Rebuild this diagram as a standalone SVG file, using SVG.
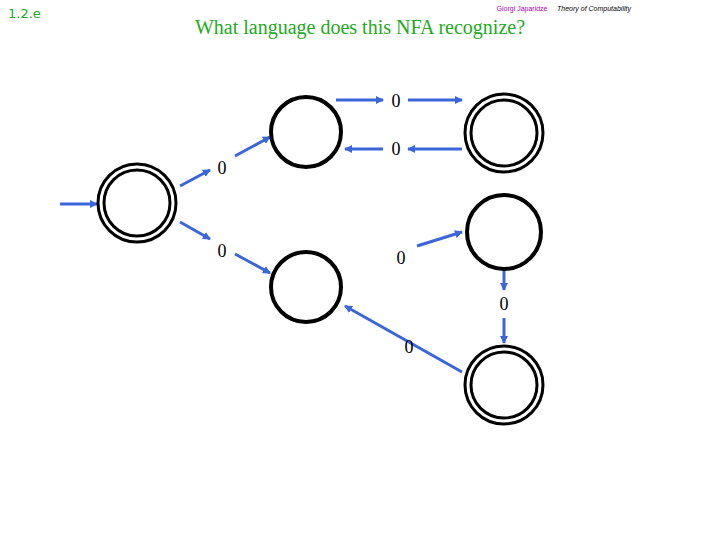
<svg xmlns="http://www.w3.org/2000/svg" width="720" height="540" viewBox="0 0 720 540">
<style>
.s{fill:none;stroke:#000;stroke-width:4}
.d{fill:none;stroke:#000;stroke-width:3}
.e{fill:none;stroke:#3a66d9;stroke-width:3;marker-end:url(#a)}
.l{font-family:"Liberation Serif",serif;font-size:18px;text-anchor:middle}
</style>
<defs><marker id="a" markerWidth="8" markerHeight="8" refX="7" refY="4" orient="auto" markerUnits="userSpaceOnUse"><path d="M0,0L8,4L0,8z" fill="#3a66d9"/></marker></defs>
<rect width="720" height="540" fill="#fff"/>
<text x="8" y="18" font-family="DejaVu Sans, sans-serif" font-size="13" fill="#22aa22">1.2.e</text>
<text x="522" y="11" font-family="Liberation Sans, sans-serif" font-size="7" fill="#b000b0" text-anchor="middle">Giorgi Japaridze</text>
<text x="594" y="11" font-family="Liberation Sans, sans-serif" font-size="7" fill="#000" text-anchor="middle" font-style="italic">Theory of Computability</text>
<text x="360" y="34" font-family="Liberation Serif, serif" font-size="20" fill="#22aa22" text-anchor="middle">What language does this NFA recognize?</text>
<g id="connectors">
<line class="e" x1="60" y1="204" x2="97" y2="204"/>
<line class="e" x1="180" y1="186" x2="210" y2="170"/><line class="e" x1="235" y1="156" x2="270" y2="137"/>
<line class="e" x1="180" y1="222" x2="210" y2="239"/><line class="e" x1="235" y1="254" x2="270" y2="273"/>
<line class="e" x1="336" y1="100" x2="383" y2="100"/><line class="e" x1="408" y1="100" x2="462" y2="100"/>
<line class="e" x1="462" y1="149" x2="408" y2="149"/><line class="e" x1="383" y1="149" x2="345" y2="149"/>
<line class="e" x1="417" y1="246" x2="462" y2="232"/>
<line class="e" x1="504" y1="270" x2="504" y2="290"/><line class="e" x1="504" y1="318" x2="504" y2="343"/>
<line class="e" x1="462" y1="372" x2="345" y2="306"/>
</g>
<g class="l">
<text x="222" y="174">0</text><text x="222" y="257">0</text>
<text x="396" y="107">0</text><text x="396" y="155">0</text>
<text x="401" y="264">0</text><text x="504" y="310">0</text><text x="409" y="353">0</text>
</g>
<g id="q0"><circle class="d" cx="137" cy="203" r="39"/><circle class="d" cx="137" cy="203" r="33"/></g>
<g id="q1"><circle class="s" cx="306" cy="132" r="35"/></g>
<g id="q2"><circle class="d" cx="504" cy="133" r="39"/><circle class="d" cx="504" cy="133" r="33"/></g>
<g id="q3"><circle class="s" cx="306" cy="287" r="35"/></g>
<g id="q4"><circle class="s" cx="504" cy="232" r="37"/></g>
<g id="q5"><circle class="d" cx="504" cy="385" r="39"/><circle class="d" cx="504" cy="385" r="33"/></g>
</svg>
